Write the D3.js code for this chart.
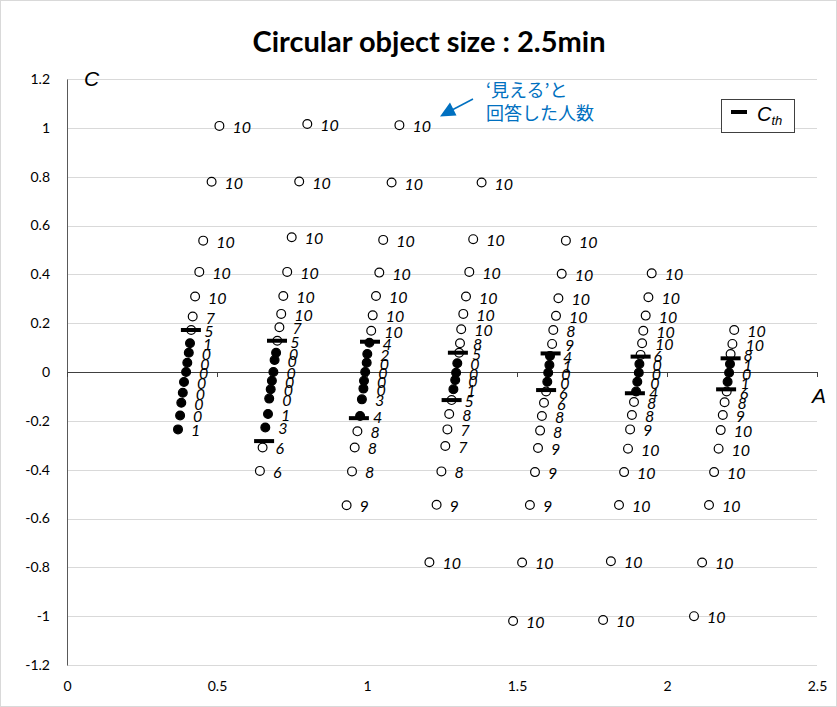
<!DOCTYPE html>
<html>
<head>
<meta charset="utf-8" />
<script src="https://d3js.org/d3.v7.min.js"></script>
<style>
  body { margin: 0; background: #fff; }
  text { font-family: Lato, "Liberation Sans", sans-serif; }
</style>
</head>
<body>
<svg id="chart" width="837" height="707"></svg>
<script>
// values, one row per object column
var aValues = [
  [0.508, 0.482, 0.454, 0.441, 0.427, 0.419, 0.414, 0.41, 0.406, 0.401, 0.397, 0.39, 0.386, 0.381, 0.377, 0.37],
  [0.801, 0.774, 0.749, 0.734, 0.721, 0.714, 0.708, 0.701, 0.697, 0.692, 0.688, 0.683, 0.679, 0.674, 0.67, 0.661, 0.652, 0.643],
  [1.108, 1.082, 1.054, 1.041, 1.03, 1.019, 1.014, 1.008, 1.001, 0.999, 0.994, 0.99, 0.988, 0.983, 0.977, 0.968, 0.959, 0.95, 0.932],
  [1.382, 1.354, 1.341, 1.33, 1.321, 1.314, 1.31, 1.307, 1.301, 1.297, 1.294, 1.288, 1.282, 1.274, 1.268, 1.261, 1.248, 1.232, 1.208],
  [1.663, 1.649, 1.638, 1.63, 1.621, 1.617, 1.61, 1.608, 1.604, 1.601, 1.597, 1.59, 1.583, 1.577, 1.57, 1.56, 1.543, 1.517, 1.487],
  [1.949, 1.938, 1.929, 1.921, 1.917, 1.912, 1.908, 1.906, 1.901, 1.897, 1.89, 1.883, 1.877, 1.87, 1.857, 1.84, 1.813, 1.787],
  [2.224, 2.218, 2.212, 2.21, 2.207, 2.202, 2.199, 2.192, 2.186, 2.179, 2.172, 2.157, 2.14, 2.117, 2.09]
];
var cValues = [
  [1.008, 0.779, 0.538, 0.41, 0.309, 0.227, 0.172, 0.118, 0.079, 0.038, 0.0, -0.041, -0.085, -0.126, -0.178, -0.235],
  [1.016, 0.78, 0.552, 0.41, 0.311, 0.238, 0.183, 0.128, 0.079, 0.049, 0, -0.036, -0.071, -0.109, -0.172, -0.227, -0.309, -0.405],
  [1.011, 0.776, 0.541, 0.407, 0.311, 0.232, 0.169, 0.12, 0.074, 0.038, 0, -0.036, -0.068, -0.112, -0.18, -0.243, -0.309, -0.407, -0.546],
  [0.776, 0.544, 0.41, 0.309, 0.238, 0.175, 0.118, 0.079, 0.036, -0.003, -0.033, -0.071, -0.115, -0.172, -0.235, -0.303, -0.407, -0.544, -0.779],
  [0.538, 0.402, 0.302, 0.23, 0.172, 0.115, 0.066, 0.029, -0.003, -0.04, -0.08, -0.126, -0.18, -0.24, -0.311, -0.41, -0.545, -0.78, -1.02],
  [0.404, 0.306, 0.231, 0.169, 0.118, 0.07, 0.033, -0.003, -0.04, -0.08, -0.123, -0.176, -0.235, -0.314, -0.41, -0.545, -0.775, -1.016],
  [0.172, 0.115, 0.074, 0.033, -0.003, -0.04, -0.08, -0.124, -0.176, -0.238, -0.314, -0.41, -0.545, -0.78, -1.0]
];
// number of people (of 10) who answered "visible"
var counts = [
  [10, 10, 10, 10, 10, 7, 5, 1, 0, 0, 0, 0, 0, 0, 0, 1],
  [10, 10, 10, 10, 10, 10, 7, 5, 0, 0, 0, 0, 0, 0, 1, 3, 6, 6],
  [10, 10, 10, 10, 10, 10, 10, 4, 2, 0, 0, 0, 0, 3, 4, 8, 8, 8, 9],
  [10, 10, 10, 10, 10, 10, 8, 5, 0, 0, 0, 1, 5, 8, 7, 7, 8, 9, 10],
  [10, 10, 10, 10, 8, 9, 4, 1, 0, 0, 6, 6, 8, 8, 9, 9, 9, 10, 10],
  [10, 10, 10, 10, 10, 6, 0, 0, 0, 4, 8, 8, 9, 10, 10, 10, 10, 10],
  [10, 10, 8, 1, 0, 1, 6, 8, 9, 10, 10, 10, 10, 10, 10]
];

// thresholds C_th
var thUpperA = [0.413, 0.70, 1.01, 1.303, 1.612, 1.912, 2.212];
var thUpperC = [0.172, 0.128, 0.124, 0.079, 0.076, 0.063, 0.056];
var thLowerA = [null, 0.657, 0.973, 1.282, 1.597, 1.893, 2.197];
var thLowerC = [null, -0.283, -0.189, -0.115, -0.074, -0.087, -0.071];

var xTicks = [0, 0.5, 1, 1.5, 2, 2.5];
var xTickLabels = ["0", "0.5", "1", "1.5", "2", "2.5"];
var yTicks = [1.2, 1, 0.8, 0.6, 0.4, 0.2, 0, -0.2, -0.4, -0.6, -0.8, -1, -1.2];
var yTickLabels = ["1.2", "1", "0.8", "0.6", "0.4", "0.2", "0", "-0.2", "-0.4", "-0.6", "-0.8", "-1", "-1.2"];

var title = "Circular object size : 2.5min";
var noteLines = ["\u2018見える\u2019と", "回答した人数"];

var svg = d3.select("#chart");
var margin = {top: 79, right: 20, bottom: 42, left: 67};
var width = 837, height = 707;

var x = d3.scaleLinear().domain([0, 2.5]).range([margin.left, width - margin.right]);
var y = d3.scaleLinear().domain([-1.2, 1.2]).range([height - margin.bottom, margin.top]);

// chart border
svg.append("rect")
  .attr("x", 0.5).attr("y", 0.5)
  .attr("width", width - 1).attr("height", height - 1)
  .attr("fill", "#fff").attr("stroke", "#d9d9d9");

// gridlines
svg.append("g").selectAll("line")
  .data(yTicks)
  .enter().append("line")
  .attr("x1", x(0)).attr("x2", x(2.5))
  .attr("y1", function(d) { return Math.round(y(d)) + 0.5; })
  .attr("y2", function(d) { return Math.round(y(d)) + 0.5; })
  .attr("stroke", "#d9d9d9").attr("stroke-width", 1);

// y axis
var yAxis = svg.append("g")
  .attr("transform", "translate(" + x(0) + ",0)")
  .call(d3.axisLeft(y).tickValues(yTicks).tickSize(0).tickPadding(17)
    .tickFormat(function(d, i) { return yTickLabels[i]; }));
yAxis.select(".domain").attr("stroke", "#595959");
yAxis.selectAll("text").attr("font-size", 14).attr("fill", "#000")
  .style("font-family", "Lato, sans-serif");

// x axis line through C = 0
var xAxis = svg.append("g")
  .attr("transform", "translate(0," + y(0) + ")")
  .call(d3.axisBottom(x).tickValues(xTicks).tickSize(5).tickFormat(""));
xAxis.select(".domain").attr("stroke", "#404040");
xAxis.selectAll(".tick line").attr("stroke", "#404040");

// x tick labels at the bottom
var xLab = svg.append("g")
  .attr("transform", "translate(0," + y(-1.2) + ")")
  .call(d3.axisBottom(x).tickValues(xTicks).tickSize(0).tickPadding(16)
    .tickFormat(function(d, i) { return xTickLabels[i]; }));
xLab.select(".domain").remove();
xLab.selectAll("text").attr("font-size", 14).attr("fill", "#000")
  .style("font-family", "Lato, sans-serif");

// build point list
var points = [];
aValues.forEach(function(col, j) {
  col.forEach(function(a, i) {
    points.push({a: a, c: cValues[j][i], n: counts[j][i]});
  });
});

svg.append("g").selectAll("circle")
  .data(points)
  .enter().append("circle")
  .attr("cx", function(d) { return x(d.a); })
  .attr("cy", function(d) { return y(d.c); })
  .attr("r", 4.4)
  .attr("fill", function(d) { return d.n < 5 ? "#000" : "#fff"; })
  .attr("stroke", "#000")
  .attr("stroke-width", 1.2);

// thresholds
var th = [];
thUpperA.forEach(function(a, i) { th.push({a: a, c: thUpperC[i]}); });
thLowerA.forEach(function(a, i) { if (a !== null) th.push({a: a, c: thLowerC[i]}); });

svg.append("g").selectAll("rect")
  .data(th)
  .enter().append("rect")
  .attr("x", function(d) { return x(d.a) - 10; })
  .attr("y", function(d) { return y(d.c) - 2; })
  .attr("width", 20).attr("height", 4)
  .attr("fill", "#000");

// count labels
svg.append("g").selectAll("text")
  .data(points)
  .enter().append("text")
  .attr("x", function(d) { return x(d.a) + 13; })
  .attr("y", function(d) { return y(d.c) + 7; })
  .attr("font-size", 16)
  .attr("font-style", "italic")
  .attr("fill", "#000")
  .text(function(d) { return d.n; });

// title and axis names
svg.append("text")
  .attr("x", 429).attr("y", 52)
  .attr("text-anchor", "middle")
  .attr("font-size", 29).attr("font-weight", "bold")
  .text(title);

svg.append("text")
  .attr("x", 84).attr("y", 86)
  .attr("font-size", 21).attr("font-style", "italic")
  .style("font-family", "'Liberation Sans', sans-serif")
  .text("C");

svg.append("text")
  .attr("x", 812).attr("y", 403)
  .attr("font-size", 21).attr("font-style", "italic")
  .style("font-family", "'Liberation Sans', sans-serif")
  .text("A");

// legend
var leg = svg.append("g");
leg.append("rect")
  .attr("x", 721.5).attr("y", 99.5).attr("width", 73).attr("height", 33)
  .attr("fill", "#fff").attr("stroke", "#404040");
leg.append("rect")
  .attr("x", 731).attr("y", 110).attr("width", 16).attr("height", 4)
  .attr("fill", "#000");
var lt = leg.append("text")
  .attr("x", 757).attr("y", 121)
  .attr("font-size", 20).attr("font-style", "italic")
  .style("font-family", "'Liberation Sans', sans-serif");
lt.append("tspan").text("C");
lt.append("tspan").attr("font-size", 13).attr("dy", 4).text("th");

// annotation
var blue = "#0070c0";
svg.append("line")
  .attr("x1", 473).attr("y1", 99).attr("x2", 452).attr("y2", 110)
  .attr("stroke", blue).attr("stroke-width", 1.5);
svg.append("path")
  .attr("d", "M440,116.5 L456.5,115.5 L450,102.5 Z")
  .attr("fill", blue);
svg.append("g").selectAll("text")
  .data(noteLines)
  .enter().append("text")
  .attr("x", 486)
  .attr("y", function(d, i) { return 97 + i * 23; })
  .attr("font-size", 18)
  .attr("fill", blue)
  .style("font-family", "'Noto Sans CJK JP', sans-serif")
  .text(function(d) { return d; });
</script>
</body>
</html>
